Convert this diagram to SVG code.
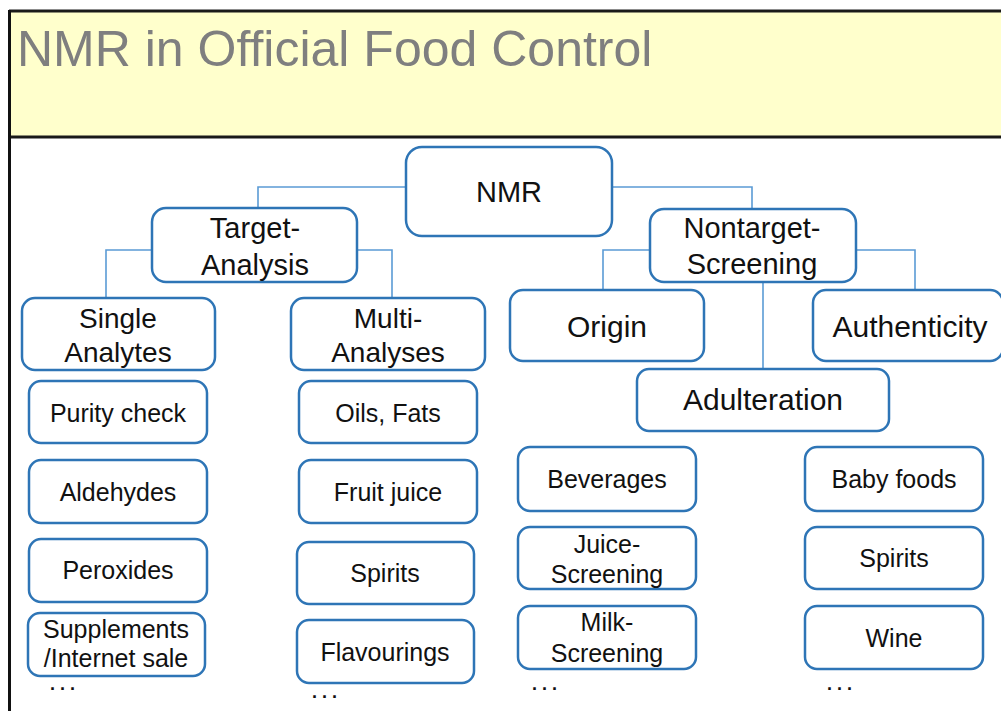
<svg xmlns="http://www.w3.org/2000/svg" width="1001" height="711" viewBox="0 0 1001 711">
<style>
.box{fill:#fff;stroke:#2E75B6;stroke-width:2.5}
.t{font-family:"Liberation Sans",Arial,sans-serif;fill:#111;text-anchor:middle}
.f29{font-size:29px}.f28{font-size:28px}.f30{font-size:30px}.f25{font-size:25px}
.dots{font-family:"Liberation Sans",Arial,sans-serif;font-size:18px;font-weight:bold;letter-spacing:5px;fill:#111}
.c{fill:none;stroke:#5B9BD5;stroke-width:1.6}
</style>
<rect x="0" y="0" width="1001" height="711" fill="#fff"/>
<g id="header">
<rect x="9" y="11" width="1000" height="126" fill="#FFFFCC"/>
<line x1="9" y1="11" x2="1001" y2="11" stroke="#1a1a1a" stroke-width="3"/>
<line x1="9" y1="137" x2="1001" y2="137" stroke="#1a1a1a" stroke-width="3"/>
<line x1="9.5" y1="10" x2="9.5" y2="711" stroke="#111" stroke-width="3"/>
<text x="17" y="66" font-family="Liberation Sans,Arial,sans-serif" font-size="50" fill="#7F7F7F">NMR in Official Food Control</text>
</g>
<g id="connectors">
<path class="c" d="M406 187 H258 V208"/>
<path class="c" d="M612 187 H752 V209"/>
<path class="c" d="M152 250 H106 V298"/>
<path class="c" d="M357 250 H392 V298"/>
<path class="c" d="M650 250 H603 V290"/>
<path class="c" d="M856 250 H915 V290"/>
<path class="c" d="M763 282 V369"/>
</g>
<g id="nmr"><rect class="box" x="406" y="147" width="206" height="89" rx="16"/><text class="t f29" x="509" y="202">NMR</text></g>
<g id="target"><rect class="box" x="152" y="208" width="205" height="74" rx="14"/><text class="t f29" x="255" y="238">Target-</text><text class="t f29" x="255" y="275">Analysis</text></g>
<g id="nontarget"><rect class="box" x="650" y="209" width="206" height="73" rx="14"/><text class="t f29" x="752" y="238">Nontarget-</text><text class="t f29" x="752" y="274">Screening</text></g>
<g id="single"><rect class="box" x="22" y="298" width="193" height="72" rx="13"/><text class="t f28" x="118" y="328">Single</text><text class="t f28" x="118" y="362">Analytes</text></g>
<g id="multi"><rect class="box" x="291" y="298" width="194" height="72" rx="13"/><text class="t f28" x="388" y="328">Multi-</text><text class="t f28" x="388" y="362">Analyses</text></g>
<g id="origin"><rect class="box" x="510" y="290" width="194" height="71" rx="13"/><text class="t f30" x="607" y="337">Origin</text></g>
<g id="authenticity"><rect class="box" x="813" y="290" width="190" height="71" rx="13"/><text class="t f30" x="910" y="337">Authenticity</text></g>
<g id="adulteration"><rect class="box" x="637" y="369" width="252" height="62" rx="12"/><text class="t f30" x="763" y="410">Adulteration</text></g>
<g id="purity"><rect class="box" x="29" y="381" width="178" height="62" rx="12"/><text class="t f25" x="118" y="422">Purity check</text></g>
<g id="aldehydes"><rect class="box" x="29" y="460" width="178" height="63" rx="12"/><text class="t f25" x="118" y="501">Aldehydes</text></g>
<g id="peroxides"><rect class="box" x="29" y="539" width="178" height="63" rx="12"/><text class="t f25" x="118" y="579">Peroxides</text></g>
<g id="supplements"><rect class="box" x="28" y="613" width="177" height="63" rx="12"/><text class="t f25" x="116" y="638">Supplements</text><text class="t f25" x="116" y="667">/Internet sale</text></g>
<g id="oils"><rect class="box" x="299" y="381" width="178" height="62" rx="12"/><text class="t f25" x="388" y="422">Oils, Fats</text></g>
<g id="fruitjuice"><rect class="box" x="299" y="460" width="178" height="63" rx="12"/><text class="t f25" x="388" y="501">Fruit juice</text></g>
<g id="spirits1"><rect class="box" x="297" y="542" width="177" height="62" rx="12"/><text class="t f25" x="385" y="582">Spirits</text></g>
<g id="flavourings"><rect class="box" x="297" y="620" width="177" height="63" rx="12"/><text class="t f25" x="385" y="661">Flavourings</text></g>
<g id="beverages"><rect class="box" x="518" y="447" width="178" height="64" rx="12"/><text class="t f25" x="607" y="488">Beverages</text></g>
<g id="juicescreening"><rect class="box" x="518" y="527" width="178" height="62" rx="12"/><text class="t f25" x="607" y="553">Juice-</text><text class="t f25" x="607" y="583">Screening</text></g>
<g id="milkscreening"><rect class="box" x="518" y="606" width="178" height="63" rx="12"/><text class="t f25" x="607" y="631">Milk-</text><text class="t f25" x="607" y="662">Screening</text></g>
<g id="babyfoods"><rect class="box" x="805" y="447" width="178" height="64" rx="12"/><text class="t f25" x="894" y="488">Baby foods</text></g>
<g id="spirits2"><rect class="box" x="805" y="527" width="178" height="62" rx="12"/><text class="t f25" x="894" y="567">Spirits</text></g>
<g id="wine"><rect class="box" x="805" y="606" width="178" height="63" rx="12"/><text class="t f25" x="894" y="647">Wine</text></g>
<g id="ellipses">
<text class="dots" x="50" y="690">...</text>
<text class="dots" x="312" y="698">...</text>
<text class="dots" x="532" y="690">...</text>
<text class="dots" x="827" y="690">...</text>
</g>
</svg>
